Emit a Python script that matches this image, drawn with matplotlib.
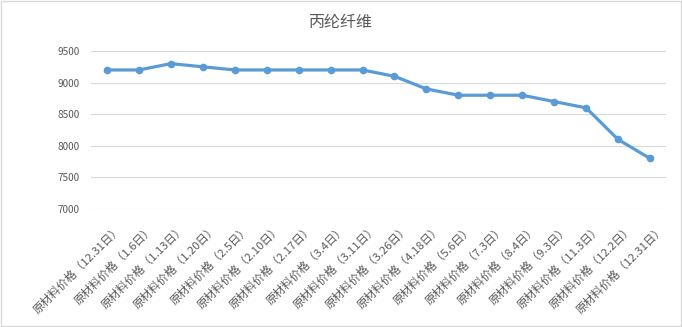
import matplotlib.pyplot as plt
from matplotlib.patches import Rectangle
from matplotlib.transforms import ScaledTranslation

plt.rcParams['font.family'] = ['Noto Sans CJK SC', 'DejaVu Sans']

# 日期与价格
dates = ["12.31", "1.6", "1.13", "1.20", "2.5", "2.10", "2.17", "3.4", "3.11",
         "3.26", "4.18", "5.6", "7.3", "8.4", "9.3", "11.3", "12.2", "12.31"]
prices = [9200, 9200, 9300, 9250, 9200, 9200, 9200, 9200, 9200,
          9100, 8900, 8800, 8800, 8800, 8700, 8600, 8100, 7800]
labels = [f"原材料价格（{d}日）" for d in dates]
y_ticks = [7000, 7500, 8000, 8500, 9000, 9500]

fig = plt.figure(figsize=(6.82, 3.27), dpi=100)
ax = fig.add_axes([0.1334, 0.361, 0.8431, 0.483])

x = list(range(len(prices)))
ax.plot(x, prices, color="#5B9BD5", linewidth=2.3, marker='o', markersize=4.5,
        markerfacecolor="#5B9BD5", markeredgecolor="#5B9BD5", zorder=3)

ax.set_xlim(-0.5, len(prices) - 0.5)
ax.set_ylim(7000, 9500)
ax.set_yticks(y_ticks)
ax.set_xticks(x)
ax.set_xticklabels(labels, rotation=45, ha='right', rotation_mode='anchor',
                   fontsize=8.2, color="#595959")
ax.tick_params(axis='y', labelsize=7.2, colors="#595959", length=0, pad=8)
ax.tick_params(axis='x', length=0, pad=0)
shift = ScaledTranslation(9 / 100, -14 / 100, fig.dpi_scale_trans)
for lab in ax.get_xticklabels():
    lab.set_transform(lab.get_transform() + shift)
ax.grid(axis='y', color="#D9D9D9", linewidth=0.8)
ax.set_axisbelow(True)
for s in ax.spines.values():
    s.set_visible(False)

fig.text(0.5, 0.932, "丙纶纤维", ha='center', va='center', fontsize=11.5,
         color="#595959")

# 图表外框
fig.patches.append(Rectangle((0.001, 0.002), 0.997, 0.995, transform=fig.transFigure,
                             fill=False, edgecolor="#D9D9D9", linewidth=1))

fig.savefig("out.png", dpi=100)
